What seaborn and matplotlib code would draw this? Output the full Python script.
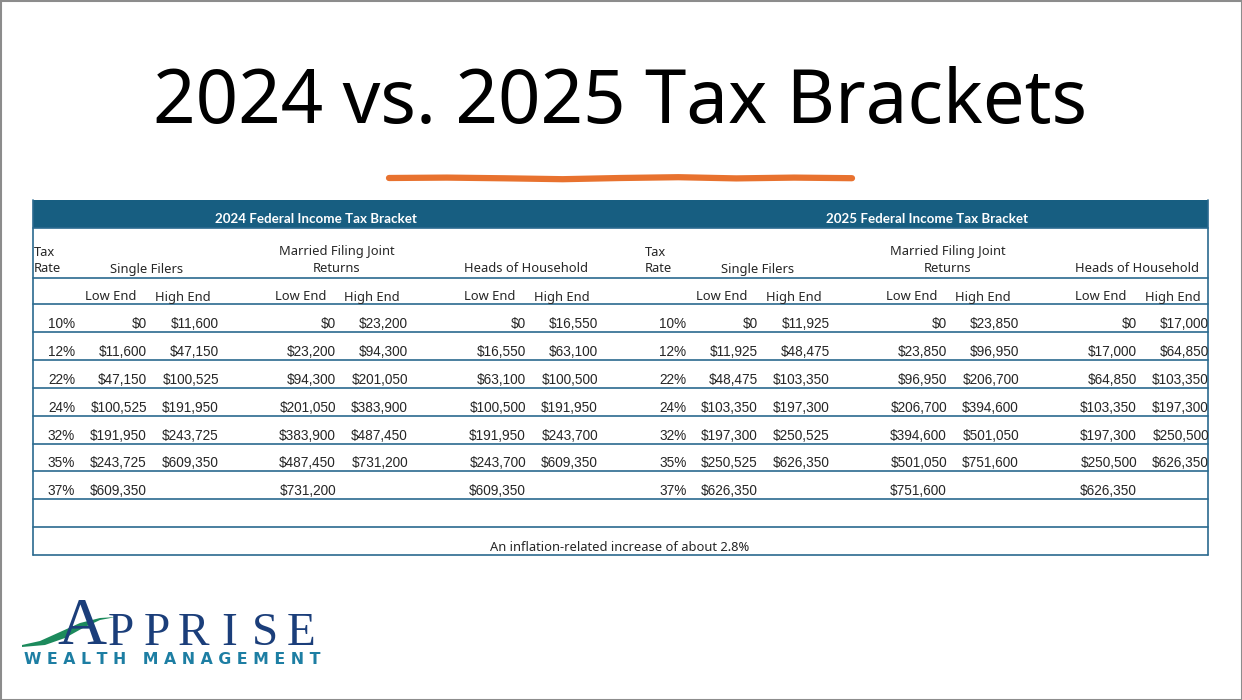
"""
tax_brackets redraws the 2024 vs 2025 federal income tax bracket slide
"""

import matplotlib.pyplot as plt
import numpy as np
import pandas as pd
import seaborn as sns
from matplotlib.patches import Polygon, Rectangle

# bracket data
rates = ["10%", "12%", "22%", "24%", "32%", "35%", "37%"]

single_low_2024 = [0, 11600, 47150, 100525, 191950, 243725, 609350]
single_high_2024 = [11600, 47150, 100525, 191950, 243725, 609350, None]
married_low_2024 = [0, 23200, 94300, 201050, 383900, 487450, 731200]
married_high_2024 = [23200, 94300, 201050, 383900, 487450, 731200, None]
hoh_low_2024 = [0, 16550, 63100, 100500, 191950, 243700, 609350]
hoh_high_2024 = [16550, 63100, 100500, 191950, 243700, 609350, None]

single_low_2025 = [0, 11925, 48475, 103350, 197300, 250525, 626350]
single_high_2025 = [11925, 48475, 103350, 197300, 250525, 626350, None]
married_low_2025 = [0, 23850, 96950, 206700, 394600, 501050, 751600]
married_high_2025 = [23850, 96950, 206700, 394600, 501050, 751600, None]
hoh_low_2025 = [0, 17000, 64850, 103350, 197300, 250500, 626350]
hoh_high_2025 = [17000, 64850, 103350, 197300, 250500, 626350, None]

years = ["2024", "2025"]
groups = ["Single Filers", "Married Filing Joint\nReturns", "Heads of Household"]
sub_labels = ["Low End", "High End"]
title = "2024 vs. 2025 Tax Brackets"
footnote = "An inflation-related increase of about 2.8%"

tables = {
    "2024": pd.DataFrame({
        "rate": rates,
        "single_low": single_low_2024, "single_high": single_high_2024,
        "married_low": married_low_2024, "married_high": married_high_2024,
        "hoh_low": hoh_low_2024, "hoh_high": hoh_high_2024,
    }),
    "2025": pd.DataFrame({
        "rate": rates,
        "single_low": single_low_2025, "single_high": single_high_2025,
        "married_low": married_low_2025, "married_high": married_high_2025,
        "hoh_low": hoh_low_2025, "hoh_high": hoh_high_2025,
    }),
}
value_cols = ["single_low", "single_high", "married_low", "married_high", "hoh_low", "hoh_high"]

sns.set_theme(style="white")
plt.rcParams["font.family"] = ["Noto Sans", "DejaVu Sans"]

NAVY = "#175E81"
LINE = "#2B6A8F"
ORANGE = "#E8722F"

fig = plt.figure(figsize=(12.42, 7), dpi=100)
ax = fig.add_axes([0, 0, 1, 1])
ax.set_xlim(0, 1242)
ax.set_ylim(700, 0)
ax.axis("off")

# slide frame
ax.add_patch(Rectangle((0.5, 0.5), 1241, 699, fill=False, ec="#8c8c8c", lw=1.5))

# title + hand drawn underline
ax.text(620, 104, title, ha="center", va="center", fontsize=53.5, color="black")
ux = np.linspace(389, 852, 9)
uy = 178 + np.array([0, -0.4, 0.3, 1.2, 0.0, -0.8, 0.4, -0.4, 0.2])
ax.plot(ux, uy, color=ORANGE, lw=4.5, solid_capstyle="round")

# table layout (pixels)
left, right = 33, 1208
band_top, band_bot = 200, 228
head_bot, sub_bot = 278, 304
row_h = 27.9
block_shift = 611
rate_x = 48
val_right = [147, 219, 336, 408, 526, 598]
sub_centers = [111, 183, 301, 372, 490, 562]
group_centers = [147, 337, 526]
band_center = 316

ax.add_patch(Rectangle((left, band_top), right - left, band_bot - band_top, color=NAVY, lw=0))

n_rows = len(rates) + 2
line_ys = [band_bot, head_bot] + [sub_bot + k * row_h for k in range(n_rows + 1)]
for y in line_ys:
    ax.plot([left, right], [y, y], color=LINE, lw=1.2)
bottom = line_ys[-1]
ax.plot([left, left], [band_top, bottom], color=LINE, lw=1.2)
ax.plot([right, right], [band_top, bottom], color=LINE, lw=1.2)

num_font = ["Liberation Sans", "DejaVu Sans"]
for i, year in enumerate(years):
    dx = i * block_shift
    df = tables[year]
    ax.text(band_center + dx, 219, f"{year} Federal Income Tax Bracket", ha="center",
            va="center", fontsize=9.6, color="white", fontweight="bold",
            family=["Lato", "DejaVu Sans"])
    ax.text(left + 1 + dx, 252, "Tax", ha="left", va="center", fontsize=9.3)
    ax.text(left + 1 + dx, 269, "Rate", ha="left", va="center", fontsize=9.3)
    for g, gx in zip(groups, group_centers):
        parts = g.split("\n")
        if len(parts) == 2:
            ax.text(gx + dx, 252, parts[0], ha="center", va="center", fontsize=9.3)
            ax.text(gx + dx, 269, parts[1], ha="center", va="center", fontsize=9.3)
        else:
            ax.text(gx + dx, 269, g, ha="center", va="center", fontsize=9.3)
    for k, sx in enumerate(sub_centers):
        ax.text(sx + dx, 297, sub_labels[k % 2], ha="center", va="center", fontsize=9.3)

    for r, row in df.iterrows():
        y = sub_bot + (r + 1) * row_h - 8
        ax.text(rate_x + dx, y, row["rate"], ha="left", va="center", fontsize=9.8, family=num_font)
        for col, xr in zip(value_cols, val_right):
            v = row[col]
            if pd.isna(v):
                continue
            ax.text(xr + dx, y, f"${v:,.0f}", ha="right", va="center", fontsize=9.8,
                    family=num_font)

ax.text(620, bottom - 8, footnote, ha="center", va="center", fontsize=9.3)

# logo
ax.add_patch(Polygon([(22, 645), (40, 641), (60, 632), (80, 623), (100, 618), (116, 617),
                      (100, 620), (83, 628), (65, 638), (45, 645), (22, 647)],
                     closed=True, color="#1C8A5C", lw=0))
ax.text(82, 644, "A", ha="center", va="baseline", fontsize=49, color="#1B3E7A",
        family=["Liberation Serif", "DejaVu Serif"])
for j, ch in enumerate("PPRISE"):
    ax.text(121 + j * 36, 645, ch, ha="center", va="baseline", fontsize=34,
            color="#1B3E7A", family=["Liberation Serif", "DejaVu Serif"])
ax.text(172, 660, "W E A L T H   M A N A G E M E N T", ha="center", va="center",
        fontsize=11.3, color="#1D7EA3", fontweight="bold", family=["DejaVu Sans"])

fig.savefig("out.png", dpi=100)
